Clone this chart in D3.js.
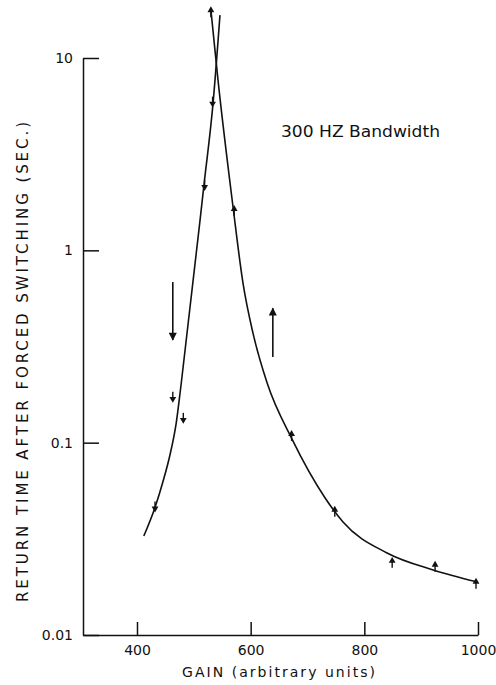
<!DOCTYPE html>
<html>
<head>
<meta charset="utf-8">
<script src="https://cdn.jsdelivr.net/npm/d3@7"></script>
<style>
  body { margin: 0; background: #fff; }
  svg text { font-family: "DejaVu Sans", sans-serif; fill: #111; }
  .axis path, .axis line { stroke: #111; stroke-width: 1.5; }
  .axis text { font-size: 14px; }
</style>
</head>
<body>
<svg id="chart" width="496" height="685"></svg>
<script>
// tick labels
const xTicks = [400, 600, 800, 1000];
const yTicks = [0.01, 0.1, 1, 10];
const yTickLabels = ["0.01", "0.1", "1", "10"];

// traced fitted curves (gain, seconds)
const leftGain  = [412, 432, 446, 458, 469, 477.5, 518, 534, 546];
const leftTime  = [0.0327, 0.0463, 0.0632, 0.0863, 0.1265, 0.1995, 2.21, 5.9, 16.7];
const rightGain = [530, 542.5, 569, 586.5, 604, 629, 673, 731, 762.5, 840, 921, 998];
const rightTime = [17.8, 7.69, 1.68, 0.676, 0.372, 0.204, 0.104, 0.0516, 0.0387, 0.0267, 0.0218, 0.0189];

// measured points, decreasing gain (down) and increasing gain (up)
const downGain = [533, 519, 463, 481.5, 431.7];
const downTime = [5.86, 2.16, 0.171, 0.133, 0.046];
const upGain = [530, 571, 672, 748, 849, 924.5, 996.5];
const upTime = [17.5, 1.62, 0.1097, 0.0443, 0.024, 0.0229, 0.0187];

// direction arrows (gain, from, to)
const arrowGain = [463, 639];
const arrowFrom = [0.684, 0.279];
const arrowTo = [0.342, 0.50];

const svg = d3.select("#chart");

const x = d3.scaleLinear().domain([305, 1000]).range([83, 478]);
const y = d3.scaleLog().domain([0.01, 10]).range([635, 58]);

svg.append("defs").append("marker")
    .attr("id", "head")
    .attr("viewBox", "0 0 10 10")
    .attr("refX", 9).attr("refY", 5)
    .attr("markerWidth", 13).attr("markerHeight", 8)
    .attr("markerUnits", "userSpaceOnUse")
    .attr("orient", "auto")
    .append("path").attr("d", "M0,0L10,5L0,10z").attr("fill", "#111");

// axes
svg.append("g")
    .attr("class", "axis")
    .attr("transform", "translate(0,635)")
    .call(d3.axisBottom(x).tickValues(xTicks).tickSizeInner(-13).tickSizeOuter(0).tickPadding(10).tickFormat(d3.format("d")));

svg.append("g")
    .attr("class", "axis")
    .attr("transform", "translate(83,0)")
    .call(d3.axisLeft(y).tickValues(yTicks).tickSizeInner(-16).tickSizeOuter(0).tickPadding(10)
        .tickFormat((d, i) => yTickLabels[i]));

// curves
const line = d3.line()
    .x(d => x(d[0]))
    .y(d => y(d[1]))
    .curve(d3.curveMonotoneX);

svg.append("path")
    .datum(leftGain.map((g, i) => [g, leftTime[i]]))
    .attr("d", line)
    .attr("fill", "none").attr("stroke", "#111").attr("stroke-width", 1.6);

svg.append("path")
    .datum(rightGain.map((g, i) => [g, rightTime[i]]))
    .attr("d", line)
    .attr("fill", "none").attr("stroke", "#111").attr("stroke-width", 1.6);

// point markers: small arrowheads with stem
function drawMarks(gains, times, dir) {
    const g = svg.append("g").selectAll("g")
        .data(gains.map((v, i) => [v, times[i]]))
        .enter().append("g")
        .attr("transform", d => `translate(${x(d[0])},${y(d[1])})`);
    g.append("line")
        .attr("x1", 0).attr("x2", 0)
        .attr("y1", 0).attr("y2", dir === "down" ? -6 : 6)
        .attr("stroke", "#111").attr("stroke-width", 1.4);
    g.append("path")
        .attr("d", d3.symbol(d3.symbolTriangle, 20))
        .attr("transform", dir === "down" ? "translate(0,1) rotate(180)" : "translate(0,-1)")
        .attr("fill", "#111");
}
drawMarks(downGain, downTime, "down");
drawMarks(upGain, upTime, "up");

// direction arrows
svg.append("g").selectAll("line")
    .data(arrowGain)
    .enter().append("line")
    .attr("x1", d => x(d)).attr("x2", d => x(d))
    .attr("y1", (d, i) => y(arrowFrom[i]))
    .attr("y2", (d, i) => y(arrowTo[i]))
    .attr("stroke", "#111").attr("stroke-width", 1.6)
    .attr("marker-end", "url(#head)");

// labels
svg.append("text")
    .attr("x", 281).attr("y", 137)
    .attr("font-size", 16)
    .attr("textLength", 159).attr("lengthAdjust", "spacingAndGlyphs")
    .text("300 HZ Bandwidth");

svg.append("text")
    .attr("x", 182).attr("y", 677)
    .attr("font-size", 14)
    .attr("textLength", 193).attr("lengthAdjust", "spacing")
    .text("GAIN (arbitrary units)");

svg.append("text")
    .attr("transform", "translate(28,602) rotate(-90)")
    .attr("font-size", 15)
    .attr("textLength", 480).attr("lengthAdjust", "spacing")
    .text("RETURN TIME AFTER FORCED SWITCHING (SEC.)");
</script>
</body>
</html>
